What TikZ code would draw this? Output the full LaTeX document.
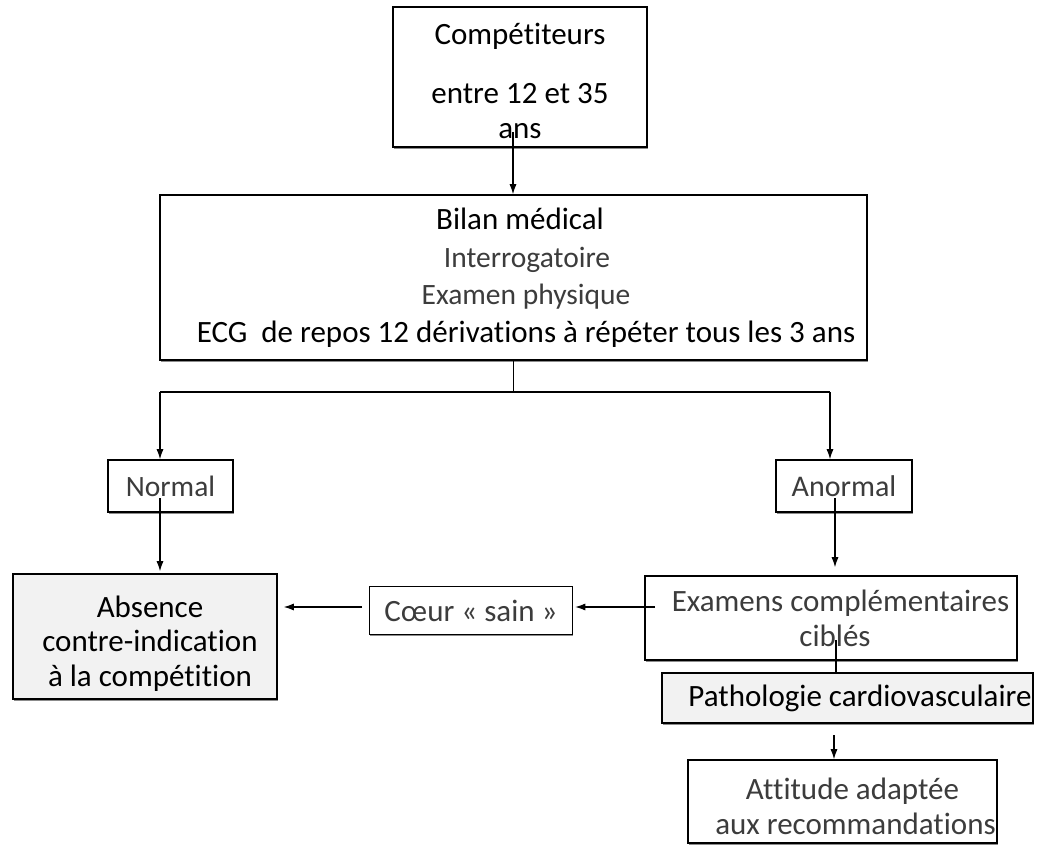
\documentclass[tikz,border=0pt]{standalone}
\usepackage{fontspec}
\setmainfont{Carlito}[Ligatures={NoCommon}]
\usetikzlibrary{arrows.meta,shadows}
\definecolor{lightfill}{HTML}{F2F2F2}
\definecolor{softtext}{HTML}{3C3C3C}
\begin{document}
\begin{tikzpicture}[x=1pt,y=-1pt,
  box/.style={draw=black, line width=1.6pt, fill=white, inner sep=0pt, align=center,
    font=\fontsize{31}{35}\selectfont, text=black,
    drop shadow={shadow xshift=0.8pt, shadow yshift=-1.6pt, fill=black!45, opacity=1}},
  greybox/.style={box, fill=lightfill},
  soft/.style={text=softtext},
  arr/.style={line width=1.1pt, -{Latex[length=10pt,width=7pt]}},
  ln/.style={line width=1.1pt}]
\useasboundingbox (0,0) rectangle (1037,845);

% nodes
\node[box, minimum width=254, minimum height=140] (comp) at (520,77)
  {\rule{0pt}{29pt}Compétiteurs\\[24pt]entre 12 et 35\\ans};
\node[box, minimum width=707, minimum height=165, font=\fontsize{31}{37.5}\selectfont] (bilan) at (513.5,277.5)
  {\hspace*{13pt}Bilan médical\\
   \hspace*{27pt}{\fontsize{29.5}{37.5}\selectfont\color{softtext}Interrogatoire}\\
   \hspace*{25pt}{\fontsize{29.5}{37.5}\selectfont\color{softtext}Examen physique}\\
   \hspace*{25pt}ECG\ \ de repos 12 dérivations à répéter tous les 3 ans};
\node[box, soft, minimum width=125, minimum height=52, font=\fontsize{29.5}{35}\selectfont] (normal) at (170.5,486) {Normal};
\node[box, soft, minimum width=136, minimum height=52, font=\fontsize{30}{35}\selectfont] (anormal) at (844,486) {Anormal};
\node[greybox, minimum width=264, minimum height=125, font=\fontsize{31}{34.5}\selectfont] (absence) at (145,636.5)
  {\rule{0pt}{35pt}\hspace*{10pt}Absence\\\hspace*{10pt}contre-indication\\\hspace*{10pt}à la compétition};
\node[box, soft, minimum width=203, minimum height=48] (coeur) at (471,610.5) {Cœur « sain »};
\node[box, soft, minimum width=372, minimum height=84] (examens) at (831,618)
  {\hspace*{19pt}Examens complémentaires\\\hspace*{8pt}ciblés};
\node[greybox, minimum width=371, minimum height=50] (patho) at (847.5,698)
  {\hspace*{25pt}Pathologie cardiovasculaire};
\node[box, soft, minimum width=309, minimum height=83] (attitude) at (842.5,801.5)
  {\rule{0pt}{31pt}\hspace*{20pt}Attitude adaptée\\\hspace*{26pt}aux recommandations};

% connectors
\coordinate (c1) at (513,132);
\draw[arr] (c1) -- (c1 |- bilan.north);
\coordinate (bl) at (160,392);
\coordinate (br) at (830,392);
\draw[ln] (bilan.south) -- (bilan.south |- bl);
\draw[ln] (bl) -- (br);
\draw[arr] (bl) -- (bl |- normal.north);
\draw[arr] (br) -- (br |- anormal.north);
\coordinate (n1) at (160,498);
\draw[arr, shorten >=2pt] (n1) -- (n1 |- absence.north);
\coordinate (e1) at (655,607);
\draw[arr, shorten >=2pt] (e1) -- (coeur.east |- e1);
\coordinate (c2) at (362,607);
\draw[arr, shorten >=6pt] (c2) -- (absence.east |- c2);
\coordinate (a1) at (835,498);
\draw[arr, shorten >=8pt] (a1) -- (a1 |- examens.north);
\coordinate (x1) at (836,640);
\draw[ln] (x1) -- (x1 |- patho.north);
\coordinate (p1) at (834,735);
\draw[arr] (p1) -- (p1 |- attitude.north);
\end{tikzpicture}
\end{document}
